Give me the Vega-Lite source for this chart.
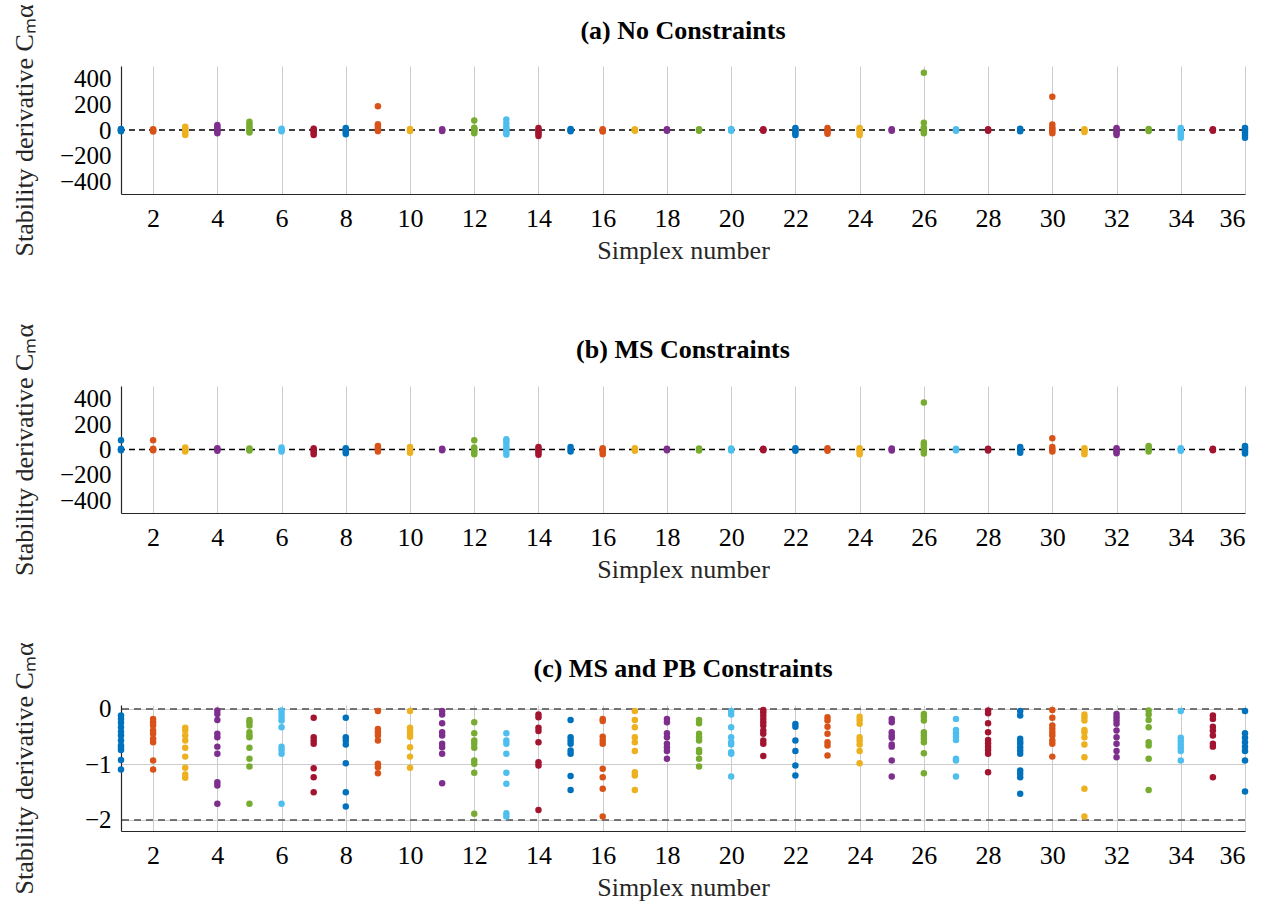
{
  "$schema": "https://vega.github.io/schema/vega-lite/v6.json",
  "background": "white",
  "padding": {"left": 10, "top": 3, "right": 5, "bottom": 5},
  "spacing": 192,
  "bounds": "flush",
  "config": {
    "font": "Liberation Serif",
    "view": {"stroke": null},
    "axis": {"labelFont": "Liberation Serif", "labelFontSize": 26, "titleFont": "Liberation Serif", "titleFontSize": 26, "titleFontWeight": "normal", "labelColor": "#000000", "titleColor": "#262626", "domainColor": "#262626", "domainWidth": 1.2, "gridColor": "#cccccc", "gridWidth": 1, "ticks": false, "labelOverlap": false},
    "axisY": {"labelFontSize": 25},
    "title": {"font": "Liberation Serif", "fontSize": 26, "fontWeight": "bold", "color": "#000000", "offset": -40, "frame": "group"}
  },
  "datasets": {
    "a": [
      {"s":1,"v":-10},{"s":1,"v":-4},{"s":1,"v":0},{"s":1,"v":4},{"s":1,"v":8},
      {"s":2,"v":-12},{"s":2,"v":-5},{"s":2,"v":0},{"s":2,"v":5},
      {"s":3,"v":-40},{"s":3,"v":-25},{"s":3,"v":-10},{"s":3,"v":0},{"s":3,"v":10},{"s":3,"v":25},
      {"s":4,"v":-25},{"s":4,"v":-10},{"s":4,"v":0},{"s":4,"v":10},{"s":4,"v":25},{"s":4,"v":40},
      {"s":5,"v":-20},{"s":5,"v":-5},{"s":5,"v":10},{"s":5,"v":25},{"s":5,"v":45},{"s":5,"v":65},
      {"s":6,"v":-10},{"s":6,"v":0},{"s":6,"v":10},
      {"s":7,"v":-40},{"s":7,"v":-25},{"s":7,"v":-10},{"s":7,"v":0},{"s":7,"v":10},
      {"s":8,"v":-33},{"s":8,"v":-20},{"s":8,"v":-5},{"s":8,"v":5},{"s":8,"v":15},
      {"s":9,"v":-8},{"s":9,"v":0},{"s":9,"v":10},{"s":9,"v":30},{"s":9,"v":45},{"s":9,"v":185},
      {"s":10,"v":-8},{"s":10,"v":0},{"s":10,"v":8},
      {"s":11,"v":-8},{"s":11,"v":0},{"s":11,"v":6},
      {"s":12,"v":-26},{"s":12,"v":-10},{"s":12,"v":0},{"s":12,"v":10},{"s":12,"v":18},{"s":12,"v":75},
      {"s":13,"v":-34},{"s":13,"v":-20},{"s":13,"v":-5},{"s":13,"v":10},{"s":13,"v":25},{"s":13,"v":52},{"s":13,"v":83},
      {"s":14,"v":-47},{"s":14,"v":-30},{"s":14,"v":-15},{"s":14,"v":0},{"s":14,"v":15},
      {"s":15,"v":-10},{"s":15,"v":0},{"s":15,"v":8},
      {"s":16,"v":-12},{"s":16,"v":-5},{"s":16,"v":5},
      {"s":17,"v":-5},{"s":17,"v":0},{"s":17,"v":5},
      {"s":18,"v":-5},{"s":18,"v":0},{"s":18,"v":5},
      {"s":19,"v":-5},{"s":19,"v":0},{"s":19,"v":5},
      {"s":20,"v":-5},{"s":20,"v":0},{"s":20,"v":8},
      {"s":21,"v":-6},{"s":21,"v":0},{"s":21,"v":5},
      {"s":22,"v":-40},{"s":22,"v":-25},{"s":22,"v":-10},{"s":22,"v":5},{"s":22,"v":15},
      {"s":23,"v":-30},{"s":23,"v":-15},{"s":23,"v":0},{"s":23,"v":15},
      {"s":24,"v":-40},{"s":24,"v":-25},{"s":24,"v":-10},{"s":24,"v":5},{"s":24,"v":15},
      {"s":25,"v":-5},{"s":25,"v":0},{"s":25,"v":5},
      {"s":26,"v":-26},{"s":26,"v":-10},{"s":26,"v":5},{"s":26,"v":18},{"s":26,"v":57},{"s":26,"v":447},
      {"s":27,"v":-5},{"s":27,"v":0},{"s":27,"v":5},
      {"s":28,"v":-5},{"s":28,"v":0},{"s":28,"v":5},
      {"s":29,"v":-10},{"s":29,"v":0},{"s":29,"v":10},
      {"s":30,"v":-26},{"s":30,"v":-10},{"s":30,"v":5},{"s":30,"v":20},{"s":30,"v":44},{"s":30,"v":260},
      {"s":31,"v":-15},{"s":31,"v":-5},{"s":31,"v":5},
      {"s":32,"v":-40},{"s":32,"v":-25},{"s":32,"v":-10},{"s":32,"v":5},{"s":32,"v":15},
      {"s":33,"v":-8},{"s":33,"v":0},{"s":33,"v":8},
      {"s":34,"v":-60},{"s":34,"v":-40},{"s":34,"v":-20},{"s":34,"v":0},{"s":34,"v":15},
      {"s":35,"v":-5},{"s":35,"v":0},{"s":35,"v":5},
      {"s":36,"v":-60},{"s":36,"v":-40},{"s":36,"v":-20},{"s":36,"v":0},{"s":36,"v":15}
    ],
    "b": [
      {"s":1,"v":-5},{"s":1,"v":0},{"s":1,"v":5},{"s":1,"v":73},
      {"s":2,"v":-5},{"s":2,"v":0},{"s":2,"v":5},{"s":2,"v":73},
      {"s":3,"v":-15},{"s":3,"v":-5},{"s":3,"v":5},{"s":3,"v":15},
      {"s":4,"v":-10},{"s":4,"v":0},{"s":4,"v":10},
      {"s":5,"v":-8},{"s":5,"v":0},{"s":5,"v":8},
      {"s":6,"v":-15},{"s":6,"v":0},{"s":6,"v":15},
      {"s":7,"v":-37},{"s":7,"v":-20},{"s":7,"v":-5},{"s":7,"v":10},
      {"s":8,"v":-30},{"s":8,"v":-15},{"s":8,"v":0},{"s":8,"v":10},
      {"s":9,"v":-15},{"s":9,"v":0},{"s":9,"v":15},{"s":9,"v":28},
      {"s":10,"v":-25},{"s":10,"v":-10},{"s":10,"v":5},{"s":10,"v":20},
      {"s":11,"v":-5},{"s":11,"v":0},{"s":11,"v":5},
      {"s":12,"v":-37},{"s":12,"v":-20},{"s":12,"v":-5},{"s":12,"v":15},{"s":12,"v":73},
      {"s":13,"v":-42},{"s":13,"v":-20},{"s":13,"v":0},{"s":13,"v":20},{"s":13,"v":45},{"s":13,"v":65},{"s":13,"v":80},
      {"s":14,"v":-42},{"s":14,"v":-25},{"s":14,"v":-10},{"s":14,"v":5},{"s":14,"v":20},
      {"s":15,"v":-15},{"s":15,"v":0},{"s":15,"v":20},
      {"s":16,"v":-37},{"s":16,"v":-20},{"s":16,"v":-5},{"s":16,"v":10},
      {"s":17,"v":-10},{"s":17,"v":0},{"s":17,"v":10},
      {"s":18,"v":-5},{"s":18,"v":0},{"s":18,"v":5},
      {"s":19,"v":-8},{"s":19,"v":0},{"s":19,"v":8},
      {"s":20,"v":-8},{"s":20,"v":0},{"s":20,"v":8},
      {"s":21,"v":-5},{"s":21,"v":0},{"s":21,"v":5},
      {"s":22,"v":-10},{"s":22,"v":0},{"s":22,"v":10},
      {"s":23,"v":-10},{"s":23,"v":0},{"s":23,"v":10},
      {"s":24,"v":-37},{"s":24,"v":-20},{"s":24,"v":-5},{"s":24,"v":10},
      {"s":25,"v":-8},{"s":25,"v":0},{"s":25,"v":8},
      {"s":26,"v":-31},{"s":26,"v":-15},{"s":26,"v":0},{"s":26,"v":20},{"s":26,"v":40},{"s":26,"v":55},{"s":26,"v":370},
      {"s":27,"v":-5},{"s":27,"v":0},{"s":27,"v":5},
      {"s":28,"v":-8},{"s":28,"v":0},{"s":28,"v":5},
      {"s":29,"v":-25},{"s":29,"v":-10},{"s":29,"v":5},{"s":29,"v":20},
      {"s":30,"v":-15},{"s":30,"v":0},{"s":30,"v":20},{"s":30,"v":89},
      {"s":31,"v":-37},{"s":31,"v":-20},{"s":31,"v":-5},{"s":31,"v":10},
      {"s":32,"v":-30},{"s":32,"v":-15},{"s":32,"v":0},{"s":32,"v":10},
      {"s":33,"v":-15},{"s":33,"v":0},{"s":33,"v":15},{"s":33,"v":28},
      {"s":34,"v":-10},{"s":34,"v":0},{"s":34,"v":10},
      {"s":35,"v":-5},{"s":35,"v":0},{"s":35,"v":5},
      {"s":36,"v":-31},{"s":36,"v":-15},{"s":36,"v":0},{"s":36,"v":15},{"s":36,"v":28}
    ],
    "c": [
      {"s":1,"v":-0.12},{"s":1,"v":-0.18},{"s":1,"v":-0.25},{"s":1,"v":-0.33},{"s":1,"v":-0.41},{"s":1,"v":-0.48},{"s":1,"v":-0.57},{"s":1,"v":-0.66},{"s":1,"v":-0.70},{"s":1,"v":-0.74},{"s":1,"v":-0.92},{"s":1,"v":-1.09},
      {"s":2,"v":-0.18},{"s":2,"v":-0.24},{"s":2,"v":-0.30},{"s":2,"v":-0.39},{"s":2,"v":-0.45},{"s":2,"v":-0.54},{"s":2,"v":-0.60},{"s":2,"v":-0.93},{"s":2,"v":-1.09},
      {"s":3,"v":-0.34},{"s":3,"v":-0.39},{"s":3,"v":-0.48},{"s":3,"v":-0.57},{"s":3,"v":-0.70},{"s":3,"v":-0.86},{"s":3,"v":-1.06},{"s":3,"v":-1.18},{"s":3,"v":-1.24},
      {"s":4,"v":-0.03},{"s":4,"v":-0.09},{"s":4,"v":-0.20},{"s":4,"v":-0.45},{"s":4,"v":-0.51},{"s":4,"v":-0.68},{"s":4,"v":-0.81},{"s":4,"v":-1.32},{"s":4,"v":-1.38},{"s":4,"v":-1.71},
      {"s":5,"v":-0.20},{"s":5,"v":-0.24},{"s":5,"v":-0.30},{"s":5,"v":-0.42},{"s":5,"v":-0.48},{"s":5,"v":-0.51},{"s":5,"v":-0.70},{"s":5,"v":-0.90},{"s":5,"v":-1.04},{"s":5,"v":-1.71},
      {"s":6,"v":-0.03},{"s":6,"v":-0.09},{"s":6,"v":-0.15},{"s":6,"v":-0.21},{"s":6,"v":-0.33},{"s":6,"v":-0.68},{"s":6,"v":-0.74},{"s":6,"v":-0.81},{"s":6,"v":-1.71},
      {"s":7,"v":-0.16},{"s":7,"v":-0.51},{"s":7,"v":-0.57},{"s":7,"v":-0.63},{"s":7,"v":-1.07},{"s":7,"v":-1.23},{"s":7,"v":-1.50},
      {"s":8,"v":-0.16},{"s":8,"v":-0.51},{"s":8,"v":-0.57},{"s":8,"v":-0.64},{"s":8,"v":-0.98},{"s":8,"v":-1.50},{"s":8,"v":-1.76},
      {"s":9,"v":-0.04},{"s":9,"v":-0.36},{"s":9,"v":-0.42},{"s":9,"v":-0.48},{"s":9,"v":-0.57},{"s":9,"v":-0.99},{"s":9,"v":-1.05},{"s":9,"v":-1.16},
      {"s":10,"v":-0.04},{"s":10,"v":-0.34},{"s":10,"v":-0.40},{"s":10,"v":-0.45},{"s":10,"v":-0.50},{"s":10,"v":-0.69},{"s":10,"v":-0.86},{"s":10,"v":-1.06},
      {"s":11,"v":-0.04},{"s":11,"v":-0.10},{"s":11,"v":-0.26},{"s":11,"v":-0.42},{"s":11,"v":-0.48},{"s":11,"v":-0.63},{"s":11,"v":-0.69},{"s":11,"v":-0.81},{"s":11,"v":-1.34},
      {"s":12,"v":-0.24},{"s":12,"v":-0.44},{"s":12,"v":-0.57},{"s":12,"v":-0.63},{"s":12,"v":-0.70},{"s":12,"v":-0.93},{"s":12,"v":-0.99},{"s":12,"v":-1.15},{"s":12,"v":-1.89},
      {"s":13,"v":-0.44},{"s":13,"v":-0.57},{"s":13,"v":-0.63},{"s":13,"v":-0.81},{"s":13,"v":-1.15},{"s":13,"v":-1.35},{"s":13,"v":-1.88},{"s":13,"v":-1.94},
      {"s":14,"v":-0.10},{"s":14,"v":-0.15},{"s":14,"v":-0.34},{"s":14,"v":-0.40},{"s":14,"v":-0.60},{"s":14,"v":-0.96},{"s":14,"v":-1.02},{"s":14,"v":-1.82},
      {"s":15,"v":-0.20},{"s":15,"v":-0.51},{"s":15,"v":-0.57},{"s":15,"v":-0.63},{"s":15,"v":-0.75},{"s":15,"v":-0.81},{"s":15,"v":-1.21},{"s":15,"v":-1.46},
      {"s":16,"v":-0.18},{"s":16,"v":-0.22},{"s":16,"v":-0.50},{"s":16,"v":-0.57},{"s":16,"v":-0.63},{"s":16,"v":-1.08},{"s":16,"v":-1.23},{"s":16,"v":-1.44},{"s":16,"v":-1.94},
      {"s":17,"v":-0.04},{"s":17,"v":-0.20},{"s":17,"v":-0.33},{"s":17,"v":-0.51},{"s":17,"v":-0.60},{"s":17,"v":-0.76},{"s":17,"v":-1.14},{"s":17,"v":-1.20},{"s":17,"v":-1.46},
      {"s":18,"v":-0.18},{"s":18,"v":-0.24},{"s":18,"v":-0.44},{"s":18,"v":-0.51},{"s":18,"v":-0.63},{"s":18,"v":-0.69},{"s":18,"v":-0.76},{"s":18,"v":-0.90},
      {"s":19,"v":-0.20},{"s":19,"v":-0.26},{"s":19,"v":-0.45},{"s":19,"v":-0.51},{"s":19,"v":-0.57},{"s":19,"v":-0.74},{"s":19,"v":-0.78},{"s":19,"v":-0.90},{"s":19,"v":-1.04},
      {"s":20,"v":-0.04},{"s":20,"v":-0.10},{"s":20,"v":-0.33},{"s":20,"v":-0.51},{"s":20,"v":-0.60},{"s":20,"v":-0.64},{"s":20,"v":-0.78},{"s":20,"v":-0.81},{"s":20,"v":-1.22},
      {"s":21,"v":-0.02},{"s":21,"v":-0.06},{"s":21,"v":-0.12},{"s":21,"v":-0.18},{"s":21,"v":-0.24},{"s":21,"v":-0.30},{"s":21,"v":-0.39},{"s":21,"v":-0.45},{"s":21,"v":-0.57},{"s":21,"v":-0.63},{"s":21,"v":-0.85},
      {"s":22,"v":-0.27},{"s":22,"v":-0.32},{"s":22,"v":-0.57},{"s":22,"v":-0.76},{"s":22,"v":-1.02},{"s":22,"v":-1.20},
      {"s":23,"v":-0.15},{"s":23,"v":-0.21},{"s":23,"v":-0.32},{"s":23,"v":-0.45},{"s":23,"v":-0.60},{"s":23,"v":-0.66},{"s":23,"v":-0.84},
      {"s":24,"v":-0.14},{"s":24,"v":-0.20},{"s":24,"v":-0.27},{"s":24,"v":-0.51},{"s":24,"v":-0.57},{"s":24,"v":-0.64},{"s":24,"v":-0.76},{"s":24,"v":-0.98},
      {"s":25,"v":-0.18},{"s":25,"v":-0.24},{"s":25,"v":-0.42},{"s":25,"v":-0.48},{"s":25,"v":-0.52},{"s":25,"v":-0.64},{"s":25,"v":-0.68},{"s":25,"v":-0.93},{"s":25,"v":-1.22},
      {"s":26,"v":-0.09},{"s":26,"v":-0.14},{"s":26,"v":-0.21},{"s":26,"v":-0.42},{"s":26,"v":-0.48},{"s":26,"v":-0.54},{"s":26,"v":-0.60},{"s":26,"v":-0.80},{"s":26,"v":-1.16},
      {"s":27,"v":-0.18},{"s":27,"v":-0.38},{"s":27,"v":-0.44},{"s":27,"v":-0.50},{"s":27,"v":-0.56},{"s":27,"v":-0.90},{"s":27,"v":-0.93},{"s":27,"v":-1.22},
      {"s":28,"v":-0.03},{"s":28,"v":-0.08},{"s":28,"v":-0.26},{"s":28,"v":-0.42},{"s":28,"v":-0.56},{"s":28,"v":-0.62},{"s":28,"v":-0.68},{"s":28,"v":-0.74},{"s":28,"v":-0.81},{"s":28,"v":-1.14},
      {"s":29,"v":-0.04},{"s":29,"v":-0.12},{"s":29,"v":-0.54},{"s":29,"v":-0.59},{"s":29,"v":-0.63},{"s":29,"v":-0.69},{"s":29,"v":-0.75},{"s":29,"v":-0.81},{"s":29,"v":-1.11},{"s":29,"v":-1.17},{"s":29,"v":-1.23},{"s":29,"v":-1.53},
      {"s":30,"v":-0.02},{"s":30,"v":-0.16},{"s":30,"v":-0.30},{"s":30,"v":-0.36},{"s":30,"v":-0.42},{"s":30,"v":-0.48},{"s":30,"v":-0.57},{"s":30,"v":-0.63},{"s":30,"v":-0.86},
      {"s":31,"v":-0.10},{"s":31,"v":-0.15},{"s":31,"v":-0.21},{"s":31,"v":-0.38},{"s":31,"v":-0.42},{"s":31,"v":-0.51},{"s":31,"v":-0.64},{"s":31,"v":-0.87},{"s":31,"v":-1.44},{"s":31,"v":-1.94},
      {"s":32,"v":-0.09},{"s":32,"v":-0.15},{"s":32,"v":-0.21},{"s":32,"v":-0.27},{"s":32,"v":-0.39},{"s":32,"v":-0.51},{"s":32,"v":-0.63},{"s":32,"v":-0.76},{"s":32,"v":-0.87},
      {"s":33,"v":-0.03},{"s":33,"v":-0.10},{"s":33,"v":-0.20},{"s":33,"v":-0.33},{"s":33,"v":-0.60},{"s":33,"v":-0.66},{"s":33,"v":-0.90},{"s":33,"v":-1.46},
      {"s":34,"v":-0.04},{"s":34,"v":-0.52},{"s":34,"v":-0.58},{"s":34,"v":-0.64},{"s":34,"v":-0.70},{"s":34,"v":-0.76},{"s":34,"v":-0.93},
      {"s":35,"v":-0.12},{"s":35,"v":-0.18},{"s":35,"v":-0.32},{"s":35,"v":-0.39},{"s":35,"v":-0.48},{"s":35,"v":-0.63},{"s":35,"v":-0.68},{"s":35,"v":-1.23},
      {"s":36,"v":-0.04},{"s":36,"v":-0.44},{"s":36,"v":-0.52},{"s":36,"v":-0.60},{"s":36,"v":-0.68},{"s":36,"v":-0.76},{"s":36,"v":-0.93},{"s":36,"v":-1.49}
    ]
  },
  "vconcat": [
    {
      "title": "(a) No Constraints",
      "width": 1124, "height": 128,
      "layer": [
        {"data": {"values": [{}]}, "mark": {"type": "rule", "color": "#000000", "strokeDash": [6, 4], "strokeWidth": 1.5},
         "encoding": {"y": {"datum": 0, "type": "quantitative", "axis": {"values": [-400, -200, 0, 200, 400], "labelOverlap": false, "title": "Stability derivative Cₘα", "titleX": -89, "titleBaseline": "alphabetic", "labelPadding": 10}}}},
        {"data": {"name": "a"}, "mark": {"type": "circle", "size": 42, "opacity": 1},
         "encoding": {
           "x": {"field": "s", "type": "quantitative", "scale": {"domain": [1, 36], "nice": false, "zero": false},
                 "axis": {"values": [2,4,6,8,10,12,14,16,18,20,22,24,26,28,30,32,34,36], "title": "Simplex number", "labelPadding": 11, "titlePadding": 6}},
           "y": {"field": "v", "type": "quantitative", "scale": {"domain": [-500, 500], "nice": false},
                 "axis": {"values": [-400, -200, 0, 200, 400], "labelOverlap": false, "title": "Stability derivative Cₘα", "titleX": -89, "titleBaseline": "alphabetic", "labelPadding": 10}},
           "color": {"field": "s", "type": "nominal", "legend": null,
                     "scale": {"domain": [1,2,3,4,5,6,7,8,9,10,11,12,13,14,15,16,17,18,19,20,21,22,23,24,25,26,27,28,29,30,31,32,33,34,35,36],
                               "range": ["#0072BD","#D95319","#EDB120","#7E2F8E","#77AC30","#4DBEEE","#A2142F","#0072BD","#D95319","#EDB120","#7E2F8E","#77AC30","#4DBEEE","#A2142F","#0072BD","#D95319","#EDB120","#7E2F8E","#77AC30","#4DBEEE","#A2142F","#0072BD","#D95319","#EDB120","#7E2F8E","#77AC30","#4DBEEE","#A2142F","#0072BD","#D95319","#EDB120","#7E2F8E","#77AC30","#4DBEEE","#A2142F","#0072BD"]}}
         }}
      ]
    },
    {
      "title": "(b) MS Constraints",
      "width": 1124, "height": 127,
      "layer": [
        {"data": {"values": [{}]}, "mark": {"type": "rule", "color": "#000000", "strokeDash": [6, 4], "strokeWidth": 1.5},
         "encoding": {"y": {"datum": 0, "type": "quantitative", "axis": {"values": [-400, -200, 0, 200, 400], "labelOverlap": false, "title": "Stability derivative Cₘα", "titleX": -89, "titleBaseline": "alphabetic", "labelPadding": 10}}}},
        {"data": {"name": "b"}, "mark": {"type": "circle", "size": 42, "opacity": 1},
         "encoding": {
           "x": {"field": "s", "type": "quantitative", "scale": {"domain": [1, 36], "nice": false, "zero": false},
                 "axis": {"values": [2,4,6,8,10,12,14,16,18,20,22,24,26,28,30,32,34,36], "title": "Simplex number", "labelPadding": 11, "titlePadding": 6}},
           "y": {"field": "v", "type": "quantitative", "scale": {"domain": [-500, 500], "nice": false},
                 "axis": {"values": [-400, -200, 0, 200, 400], "labelOverlap": false, "title": "Stability derivative Cₘα", "titleX": -89, "titleBaseline": "alphabetic", "labelPadding": 10}},
           "color": {"field": "s", "type": "nominal", "legend": null}
         }}
      ]
    },
    {
      "title": "(c) MS and PB Constraints",
      "width": 1124, "height": 126,
      "layer": [
        {"data": {"values": [{"r": 0}, {"r": -2}]}, "mark": {"type": "rule", "color": "#4d4d4d", "strokeDash": [7, 5], "strokeWidth": 1.5},
         "encoding": {"y": {"field": "r", "type": "quantitative", "axis": {"values": [-2, -1, 0], "format": "d", "labelOverlap": false, "title": "Stability derivative Cₘα", "titleX": -89, "titleBaseline": "alphabetic", "labelPadding": 10}}}},
        {"data": {"name": "c"}, "mark": {"type": "circle", "size": 42, "opacity": 1},
         "encoding": {
           "x": {"field": "s", "type": "quantitative", "scale": {"domain": [1, 36], "nice": false, "zero": false},
                 "axis": {"values": [2,4,6,8,10,12,14,16,18,20,22,24,26,28,30,32,34,36], "title": "Simplex number", "labelPadding": 11, "titlePadding": 6}},
           "y": {"field": "v", "type": "quantitative", "scale": {"domain": [-2.2, 0.07], "nice": false, "zero": false},
                 "axis": {"values": [-2, -1, 0], "format": "d", "labelOverlap": false, "title": "Stability derivative Cₘα", "titleX": -89, "titleBaseline": "alphabetic", "labelPadding": 10}},
           "color": {"field": "s", "type": "nominal", "legend": null}
         }}
      ]
    }
  ]
}
